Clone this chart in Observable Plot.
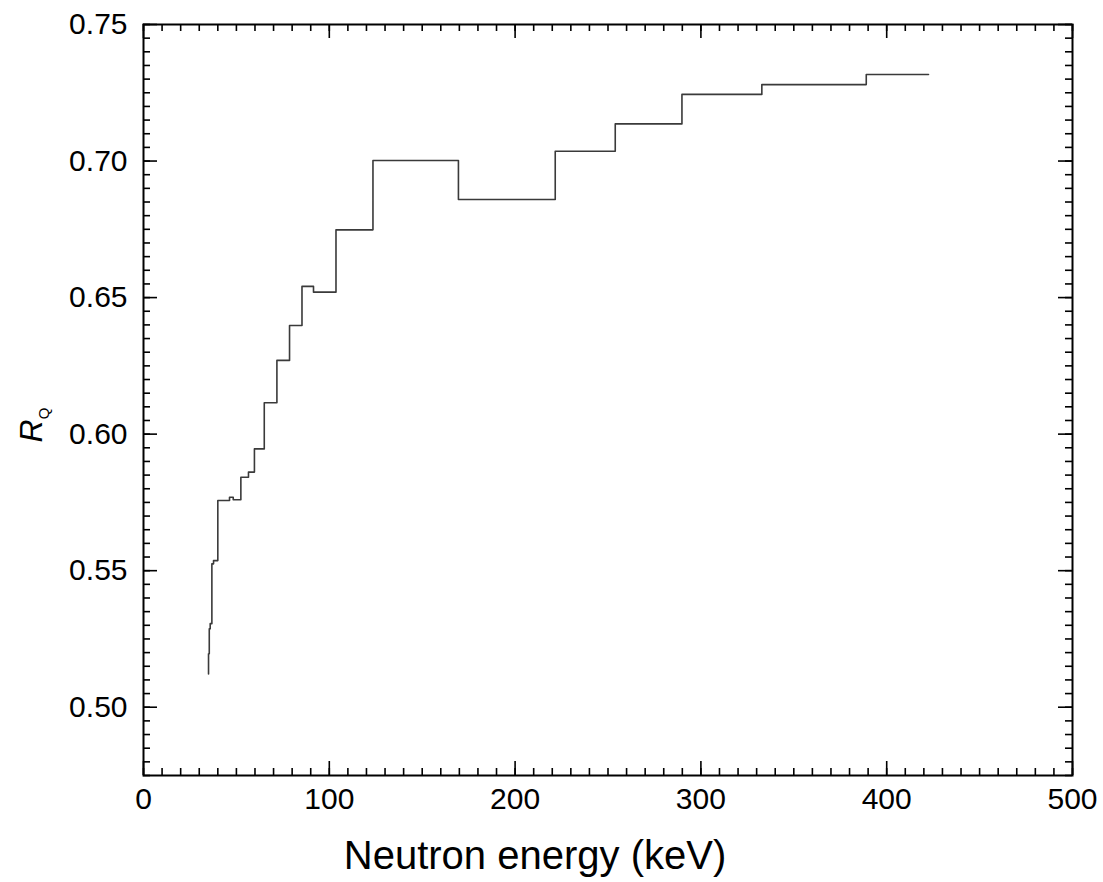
<!DOCTYPE html>
<html><head><meta charset="utf-8">
<script src="https://cdn.jsdelivr.net/npm/d3@7"></script>
<script src="https://cdn.jsdelivr.net/npm/@observablehq/plot@0.6"></script>
<style>body{margin:0;background:#fff}</style>
</head><body><div id="chart"></div>
<script>
// Step levels: each entry starts a horizontal level at energy[i] with value rq[i]
const energy = [35.0, 35.0, 35.4, 35.9, 36.8, 37.7, 40.0, 46.3, 48.3, 52.4, 56.5, 59.7, 65.0, 71.8, 78.6, 85.3, 91.5, 103.6, 123.5, 169.5, 221.6, 253.9, 289.8, 332.8, 389.0, 422.5];
const rq     = [0.5122, 0.5196, 0.5287, 0.5306, 0.5525, 0.5537, 0.5757, 0.5769, 0.5760, 0.5842, 0.5861, 0.5946, 0.6115, 0.6270, 0.6398, 0.6541, 0.6520, 0.6748, 0.7002, 0.6859, 0.7036, 0.7136, 0.7244, 0.7280, 0.7317, 0.7317];
const xTicks = [0, 100, 200, 300, 400, 500];
const yTicks = [0.50, 0.55, 0.60, 0.65, 0.70, 0.75];
const xMinor = d3.range(0, 51).map(i => i * 10);
const yMinor = d3.range(95, 151).map(i => i / 200);
const xLabel = "Neutron energy (keV)";

const W = 1103, H = 882;
const mL = 143, mR = 31, mT = 24, mB = 107;
const pw = W - mL - mR, ph = H - mT - mB;
const font = "'Liberation Sans', Arial, Helvetica, sans-serif";

const data = energy.map((e, i) => ({e, v: rq[i]}));
const tk = {stroke: "black", strokeWidth: 1.6};

const chart = Plot.plot({
  width: W, height: H,
  marginLeft: mL, marginRight: mR, marginTop: mT, marginBottom: mB,
  style: {fontFamily: font, fontSize: "30px", background: "white", color: "black"},
  x: {domain: [0, 500]},
  y: {domain: [0.475, 0.75]},
  marks: [
    Plot.axisX(xTicks, {tickSize: 0, tickPadding: 12, fontSize: 30, label: null, tickFormat: d => String(d)}),
    Plot.axisY(yTicks, {tickSize: 0, tickPadding: 16, fontSize: 30, label: null, tickFormat: d => d.toFixed(2)}),
    // inward minor & major ticks on all four sides
    Plot.ruleX(xMinor, {...tk, insetTop: ph - 7}),
    Plot.ruleX(xTicks, {...tk, insetTop: ph - 14}),
    Plot.ruleX(xMinor, {...tk, insetBottom: ph - 7}),
    Plot.ruleX(xTicks, {...tk, insetBottom: ph - 14}),
    Plot.ruleY(yMinor, {...tk, insetRight: pw - 7}),
    Plot.ruleY(yTicks, {...tk, insetRight: pw - 14}),
    Plot.ruleY(yMinor, {...tk, insetLeft: pw - 7}),
    Plot.ruleY(yTicks, {...tk, insetLeft: pw - 14}),
    Plot.line(data, {x: "e", y: "v", curve: "step-after", stroke: "#3a3a3a", strokeWidth: 1.6}),
    Plot.frame({stroke: "black", strokeWidth: 2})
  ]
});

const svg = d3.select(chart);
svg.append("text")
  .attr("x", 535).attr("y", 869)
  .attr("text-anchor", "middle")
  .attr("font-family", font).attr("font-size", 40).attr("fill", "black")
  .text(xLabel);

const yl = svg.append("text")
  .attr("transform", "translate(42,425) rotate(-90)")
  .attr("text-anchor", "middle")
  .attr("font-family", font).attr("font-size", 32).attr("fill", "black");
yl.append("tspan").attr("font-style", "italic").text("R");
yl.append("tspan").attr("font-size", 15).attr("dy", 7).text("Q");

document.getElementById("chart").appendChild(chart);
</script>
</body></html>
